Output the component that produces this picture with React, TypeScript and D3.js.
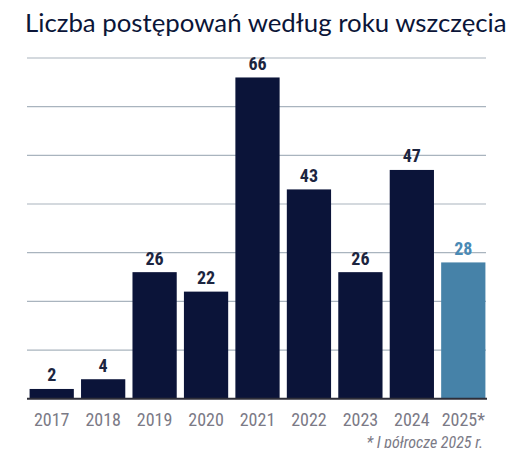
import React, { useEffect, useRef } from 'react'
import * as d3 from 'd3'

const years = ['2017', '2018', '2019', '2020', '2021', '2022', '2023', '2024', '2025*']
const counts = [2, 4, 26, 22, 66, 43, 26, 47, 28]
const yTicks = [0, 10, 20, 30, 40, 50, 60, 70]
const title = 'Liczba postępowań według roku wszczęcia'
const footnote = '* I półrocze 2025 r.'

const App = () => {
  const svgRef = useRef<SVGSVGElement>(null)

  useEffect(() => {
    const w = 525
    const h = 456
    const svg = d3.select(svgRef.current).attr('width', w).attr('height', h)
    svg.selectAll('*').remove()

    const x = d3.scaleBand().domain(years).range([26.5, 488.5]).paddingInner(0.14).paddingOuter(0.06)
    const y = d3.scaleLinear().domain([0, 70]).range([398.7, 58])
    const narrow = "'Roboto Condensed', Roboto, sans-serif"

    // title
    svg.append('text')
      .attr('x', 25).attr('y', 32)
      .attr('font-family', 'Lato, sans-serif')
      .attr('font-size', 25.8)
      .attr('fill', '#0b1538')
      .text(title)

    // gridlines
    svg.append('g')
      .selectAll('line')
      .data(yTicks.slice(1))
      .join('line')
      .attr('x1', 27).attr('x2', 486)
      .attr('y1', d => y(d)).attr('y2', d => y(d))
      .attr('stroke', '#a9b4be')
      .attr('stroke-width', 1.2)

    // bars
    svg.append('g')
      .selectAll('rect')
      .data(counts)
      .join('rect')
      .attr('x', (d, i) => x(years[i])!)
      .attr('width', x.bandwidth())
      .attr('y', d => y(d))
      .attr('height', d => y(0) - y(d))
      .attr('fill', (d, i) => (i === years.length - 1 ? '#4682a8' : '#0b1439'))

    // value labels
    svg.append('g')
      .selectAll('text')
      .data(counts)
      .join('text')
      .attr('x', (d, i) => x(years[i])! + x.bandwidth() / 2)
      .attr('y', d => y(d) - 7.5)
      .attr('text-anchor', 'middle')
      .attr('font-family', narrow)
      .attr('font-stretch', 'condensed')
      .attr('font-weight', 'bold')
      .attr('font-size', 18)
      .attr('fill', (d, i) => (i === years.length - 1 ? '#4a8ab5' : '#1c2540'))
      .text(d => d)

    // baseline
    svg.append('line')
      .attr('x1', 27).attr('x2', 487)
      .attr('y1', y(0)).attr('y2', y(0))
      .attr('stroke', '#2e2e38')
      .attr('stroke-width', 2)

    // x axis labels
    const xAxis = d3.axisBottom(x).tickSize(0).tickPadding(0)
    const gx = svg.append('g').attr('transform', `translate(0,${y(0)})`).call(xAxis)
    gx.select('.domain').remove()
    gx.selectAll('text')
      .attr('dy', null)
      .attr('y', 27.5)
      .attr('font-family', narrow)
      .attr('font-stretch', 'condensed')
      .attr('font-size', 18)
      .attr('fill', '#7b7a86')

    // footnote
    svg.append('text')
      .attr('x', 483).attr('y', 448)
      .attr('text-anchor', 'end')
      .attr('font-family', narrow)
      .attr('font-stretch', 'condensed')
      .attr('font-style', 'italic')
      .attr('font-size', 16)
      .attr('fill', '#7b7a86')
      .text(footnote)
  }, [])

  return (
    <div style={{ margin: -8 }}>
      <svg ref={svgRef} style={{ display: 'block' }}></svg>
    </div>
  )
}

export default App
